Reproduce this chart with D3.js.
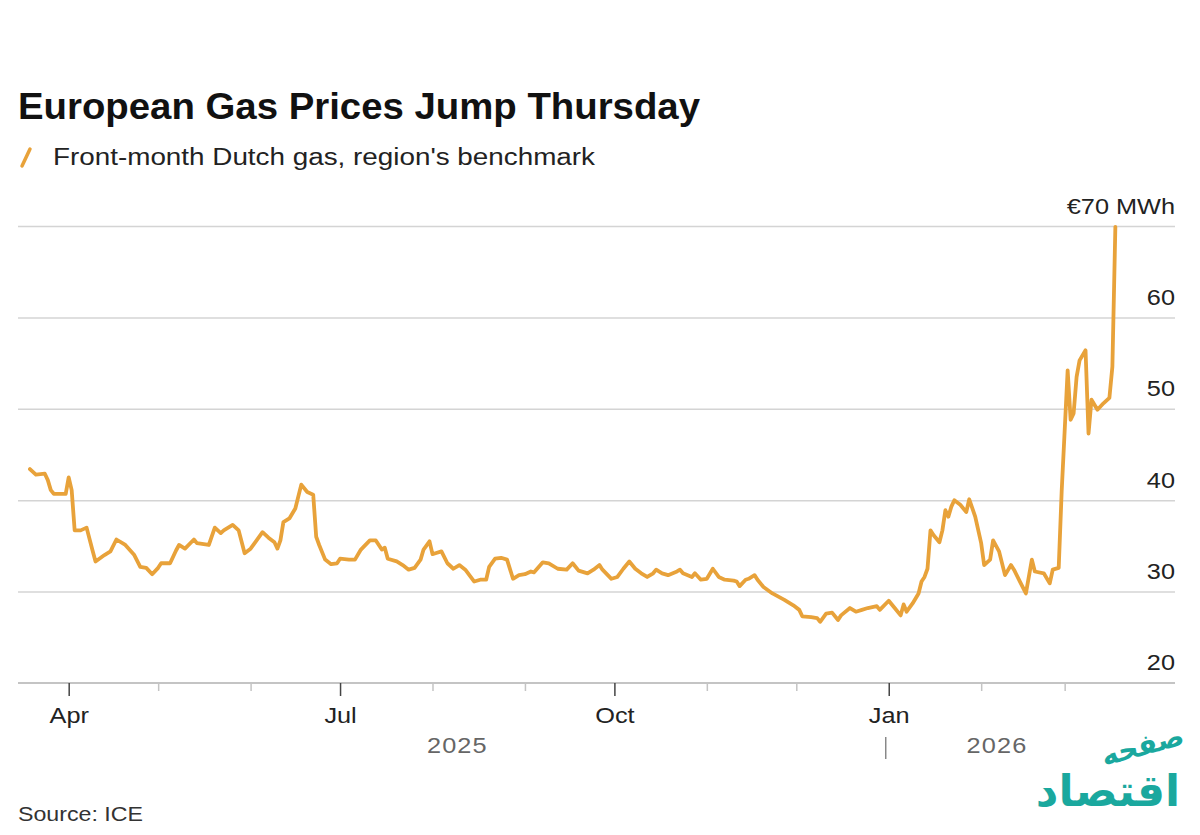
<!DOCTYPE html>
<html>
<head>
<meta charset="utf-8">
<script src="https://cdn.jsdelivr.net/npm/d3@7"></script>
<style>
  html, body { margin: 0; padding: 0; background: #fff; }
  svg { display: block; font-family: "Liberation Sans", Arial, Helvetica, sans-serif; }
  .title { font-size: 36px; font-weight: 700; fill: #111; }
  .subtitle { font-size: 23px; fill: #222; }
  .ylab, .xlab { font-size: 22px; fill: #222; }
  .year { font-size: 22px; fill: #666; letter-spacing: 1px; }
  .source { font-size: 21px; fill: #333; }
  .logo { font-family: "DejaVu Sans", sans-serif; fill: #1aa89e; font-weight: 700; }
</style>
</head>
<body>
<svg width="1200" height="835"></svg>
<script>
// Front-month Dutch TTF gas, EUR/MWh
const dates = [
  "2025-03-19","2025-03-21","2025-03-24","2025-03-25","2025-03-26","2025-03-27","2025-03-31",
  "2025-04-01","2025-04-02","2025-04-03","2025-04-05","2025-04-07","2025-04-09","2025-04-10",
  "2025-04-13","2025-04-15","2025-04-17","2025-04-20","2025-04-23","2025-04-25","2025-04-27",
  "2025-04-29","2025-05-01","2025-05-02","2025-05-05","2025-05-07","2025-05-08","2025-05-10",
  "2025-05-13","2025-05-14","2025-05-18","2025-05-20","2025-05-22","2025-05-23","2025-05-26",
  "2025-05-28","2025-05-30","2025-06-01","2025-06-05","2025-06-07","2025-06-09","2025-06-10",
  "2025-06-11","2025-06-12","2025-06-14","2025-06-16","2025-06-18","2025-06-20","2025-06-22",
  "2025-06-23","2025-06-24","2025-06-26","2025-06-28","2025-06-30","2025-07-01","2025-07-04",
  "2025-07-06","2025-07-08","2025-07-11","2025-07-13","2025-07-15","2025-07-16","2025-07-17",
  "2025-07-20","2025-07-22","2025-07-24","2025-07-26","2025-07-28","2025-07-29","2025-07-31",
  "2025-08-01","2025-08-02","2025-08-04","2025-08-06","2025-08-08","2025-08-10","2025-08-12",
  "2025-08-15","2025-08-17","2025-08-19","2025-08-20","2025-08-22","2025-08-24","2025-08-26",
  "2025-08-28","2025-08-30","2025-09-01","2025-09-03","2025-09-04","2025-09-07","2025-09-09",
  "2025-09-12","2025-09-15","2025-09-17","2025-09-19","2025-09-22","2025-09-24","2025-09-26",
  "2025-09-27","2025-09-30","2025-10-02","2025-10-04","2025-10-06","2025-10-08","2025-10-10",
  "2025-10-12","2025-10-14","2025-10-15","2025-10-17","2025-10-19","2025-10-22","2025-10-23",
  "2025-10-24","2025-10-27","2025-10-28","2025-10-30","2025-11-01","2025-11-03","2025-11-05",
  "2025-11-07","2025-11-10","2025-11-11","2025-11-12","2025-11-14","2025-11-15","2025-11-17",
  "2025-11-18","2025-11-20","2025-11-23","2025-11-27","2025-11-30","2025-12-02","2025-12-03",
  "2025-12-06","2025-12-08","2025-12-09","2025-12-11","2025-12-13","2025-12-15","2025-12-16",
  "2025-12-19","2025-12-21","2025-12-23","2025-12-25","2025-12-28","2025-12-29","2026-01-01",
  "2026-01-03","2026-01-05","2026-01-06","2026-01-07","2026-01-09","2026-01-11","2026-01-12",
  "2026-01-13","2026-01-14","2026-01-15","2026-01-16","2026-01-18","2026-01-19","2026-01-20",
  "2026-01-21","2026-01-22","2026-01-23","2026-01-25","2026-01-27","2026-01-28","2026-01-30",
  "2026-02-01","2026-02-02","2026-02-04","2026-02-05","2026-02-07","2026-02-09","2026-02-11",
  "2026-02-12","2026-02-14","2026-02-16","2026-02-18","2026-02-19","2026-02-22","2026-02-24",
  "2026-02-25","2026-02-27","2026-02-28","2026-03-02","2026-03-03","2026-03-04","2026-03-05",
  "2026-03-06","2026-03-08","2026-03-09","2026-03-10","2026-03-12","2026-03-14","2026-03-16",
  "2026-03-17","2026-03-18"
]

const prices = [
  43.4, 42.8, 42.9, 42.2, 41.1, 40.7, 40.7,
  42.5, 41.1, 36.7, 36.7, 37.0, 34.5, 33.3,
  34.0, 34.4, 35.7, 35.1, 34.0, 32.7, 32.6,
  31.9, 32.6, 33.1, 33.1, 34.5, 35.1, 34.7,
  35.7, 35.3, 35.1, 37.0, 36.4, 36.7, 37.3,
  36.7, 34.2, 34.7, 36.5, 35.9, 35.4, 34.7,
  35.6, 37.6, 38.0, 39.1, 41.7, 40.9, 40.6,
  36.0, 35.1, 33.5, 33.0, 33.1, 33.6, 33.5,
  33.5, 34.6, 35.6, 35.6, 34.6, 34.8, 33.6,
  33.3, 32.9, 32.4, 32.6, 33.5, 34.6, 35.5,
  34.1, 34.2, 34.4, 33.1, 32.5, 32.9, 32.4,
  31.1, 31.3, 31.3, 32.7, 33.6, 33.7, 33.5,
  31.4, 31.8, 31.9, 32.2, 32.1, 33.2, 33.1,
  32.5, 32.4, 33.1, 32.3, 32.0, 32.4, 32.9,
  32.4, 31.4, 31.6, 32.5, 33.3, 32.5, 32.0,
  31.6, 32.0, 32.4, 32.0, 31.8, 32.2, 32.4,
  32.0, 31.6, 32.0, 31.3, 31.4, 32.5, 31.6,
  31.3, 31.2, 31.1, 30.6, 31.3, 31.4, 31.8,
  31.3, 30.5, 29.8, 29.1, 28.5, 28.0, 27.3,
  27.2, 27.1, 26.7, 27.6, 27.7, 26.9, 27.4,
  28.2, 27.8, 28.0, 28.2, 28.4, 28.0, 29.0,
  28.2, 27.4, 28.6, 27.8, 28.7, 29.8, 31.1,
  31.6, 32.5, 36.7, 36.2, 35.4, 36.7, 38.9,
  38.2, 39.3, 40.0, 39.5, 38.7, 40.1, 38.2,
  35.3, 32.9, 33.5, 35.6, 34.4, 31.8, 32.9,
  32.4, 31.1, 29.8, 33.5, 32.2, 32.0, 30.9,
  32.4, 32.6, 41.0, 54.2, 48.8, 49.5, 53.5,
  55.3, 56.4, 47.3, 51.0, 49.9, 50.6, 51.2,
  54.6, 69.9
]

const yTicks = [20, 30, 40, 50, 60, 70]
const majorMonths = ["2025-04-01", "2025-07-01", "2025-10-01", "2026-01-01"]
const majorLabels = ["Apr", "Jul", "Oct", "Jan"]
const yearLabels = ["2025", "2026"]

const parse = d3.timeParse("%Y-%m-%d")
const series = dates.map((d, i) => ({ date: parse(d), value: prices[i] }))

const margin = { left: 18, right: 25, top: 226, bottom: 152 }
const W = 1200, H = 835
const WIDEN = 1.15   // the source image's lettering runs a bit wide

const x = d3.scaleTime()
  .domain([parse("2025-03-15"), parse("2026-04-07")])
  .range([margin.left, W - margin.right])

const y = d3.scaleLinear()
  .domain([20, 70])
  .range([H - margin.bottom, margin.top])

const svg = d3.select("svg")
const orange = "#e8a23a"

// stretch text to a given width (or by a factor)
function widen(sel, target) {
  sel.each(function() {
    const w = this.getComputedTextLength()
    this.setAttribute("textLength", target || w * WIDEN)
    this.setAttribute("lengthAdjust", "spacingAndGlyphs")
  })
}

// Title + subtitle
svg.append("text").attr("class", "title")
  .attr("x", 18).attr("y", 119)
  .text("European Gas Prices Jump Thursday")
  .call(widen, 682)

svg.append("line")
  .attr("x1", 22).attr("y1", 166).attr("x2", 30).attr("y2", 149)
  .attr("stroke", orange).attr("stroke-width", 3.5).attr("stroke-linecap", "round")

svg.append("text").attr("class", "subtitle")
  .attr("x", 53).attr("y", 165)
  .text("Front-month Dutch gas, region's benchmark")
  .call(widen, 542)

// Grid lines (y axis on the right)
const yAxis = d3.axisLeft(y)
  .tickValues(yTicks.slice(1))
  .tickSize(x.range()[1] - x.range()[0])
  .tickFormat(d => d === 70 ? "€70 MWh" : d)

const gy = svg.append("g")
  .attr("transform", `translate(${x.range()[1]},0)`)
  .call(yAxis)
gy.select(".domain").remove()
gy.selectAll(".tick line").attr("stroke", "#d4d4d4").attr("stroke-width", 1.5)
gy.selectAll(".tick text")
  .attr("class", "ylab")
  .attr("x", 0).attr("dy", -13)
  .attr("text-anchor", "end")
  .attr("font-family", null).attr("font-size", null).attr("fill", null)
  .call(widen)

// Baseline at 20 with its label
svg.append("line")
  .attr("x1", x.range()[0]).attr("x2", x.range()[1])
  .attr("y1", y(20)).attr("y2", y(20))
  .attr("stroke", "#c4c4c4").attr("stroke-width", 2)
svg.append("text").attr("class", "ylab")
  .attr("x", x.range()[1]).attr("y", y(20) - 13)
  .attr("text-anchor", "end")
  .text(yTicks[0])
  .call(widen)

// Month ticks
const minorTicks = d3.timeMonth.range(parse("2025-04-01"), parse("2026-04-01"))
  .filter(d => !majorMonths.includes(d3.timeFormat("%Y-%m-%d")(d)))

svg.append("g")
  .attr("transform", `translate(0,${y(20)})`)
  .call(d3.axisBottom(x).tickValues(minorTicks).tickSize(8).tickFormat(""))
  .call(g => g.select(".domain").remove())
  .call(g => g.selectAll(".tick line").attr("stroke", "#c4c4c4").attr("stroke-width", 1.5))

svg.append("g")
  .attr("transform", `translate(0,${y(20)})`)
  .call(d3.axisBottom(x).tickValues(majorMonths.map(parse)).tickSize(13)
    .tickFormat((d, i) => majorLabels[i]))
  .call(g => g.select(".domain").remove())
  .call(g => g.selectAll(".tick line").attr("stroke", "#444").attr("stroke-width", 1.5))
  .call(g => g.selectAll(".tick text")
    .attr("class", "xlab")
    .attr("y", 40).attr("dy", 0)
    .attr("font-family", null).attr("font-size", null).attr("fill", null)
    .call(widen))

// Year labels
const jan = parse("2026-01-01")
const last = series[series.length - 1].date
svg.append("text").attr("class", "year")
  .attr("x", (x.range()[0] + x(jan)) / 2 + 4).attr("y", 753)
  .attr("text-anchor", "middle").text(yearLabels[0])
  .call(widen)
svg.append("text").attr("class", "year")
  .attr("x", (x(jan) + x(last)) / 2 - 5).attr("y", 753)
  .attr("text-anchor", "middle").text(yearLabels[1])
  .call(widen)
svg.append("line")
  .attr("x1", x(jan) - 3).attr("x2", x(jan) - 3)
  .attr("y1", 737).attr("y2", 759)
  .attr("stroke", "#888").attr("stroke-width", 1.5)

// Price line
const line = d3.line()
  .x(d => x(d.date))
  .y(d => y(d.value))

svg.append("path")
  .datum(series)
  .attr("fill", "none")
  .attr("stroke", orange)
  .attr("stroke-width", 3.8)
  .attr("stroke-linejoin", "round")
  .attr("stroke-linecap", "round")
  .attr("d", line)

// Source
svg.append("text").attr("class", "source")
  .attr("x", 18).attr("y", 821)
  .text("Source: ICE")
  .call(widen, 125)

// Watermark
svg.append("text").attr("class", "logo")
  .attr("font-size", 44)
  .attr("x", 1108).attr("y", 806)
  .attr("text-anchor", "middle")
  .text("اقتصاد")
svg.append("text").attr("class", "logo")
  .attr("font-size", 28)
  .attr("transform", "translate(1145,755) rotate(-15)")
  .attr("text-anchor", "middle")
  .text("صفحه")
</script>
</body>
</html>
